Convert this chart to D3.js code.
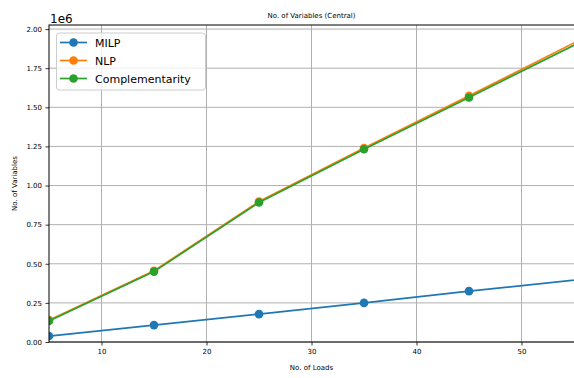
<!DOCTYPE html>
<html>
<head>
<meta charset="utf-8">
<script src="https://cdn.jsdelivr.net/npm/d3@7"></script>
<style>
  html, body { margin: 0; padding: 0; background: #fff; }
  svg { display: block; font-family: "DejaVu Sans", sans-serif; }
</style>
</head>
<body>
<svg id="chart" width="574" height="378"></svg>
<script>
// Number of loads per run
const loads = [5, 15, 25, 35, 45, 65];
// Variable counts per formulation
const milp = [38000, 108000, 178000, 250000, 325000, 465000];
const nlp = [140000, 455000, 898000, 1240000, 1573000, 2250000];
const complementarity = [135000, 450000, 892000, 1232000, 1563000, 2230000];
const seriesNames = ["MILP", "NLP", "Complementarity"];
const seriesColors = ["#1f77b4", "#ff7f0e", "#2ca02c"];
const xTicks = [10, 20, 30, 40, 50];
const yTicks = [0, 0.25, 0.5, 0.75, 1.0, 1.25, 1.5, 1.75, 2.0];

const svg = d3.select("#chart");
const W = 574, H = 378;
const m = { top: 25, right: 0, bottom: 36, left: 49 };
const x = d3.scaleLinear().domain([5, 55]).range([m.left, W - m.right]);
const y = d3.scaleLinear().domain([0, 2.026e6]).range([H - m.bottom, m.top]);

svg.append("defs").append("clipPath").attr("id", "plot")
  .append("rect").attr("x", m.left).attr("y", m.top)
  .attr("width", W - m.right - m.left).attr("height", H - m.bottom - m.top);

// grid
const grid = svg.append("g");
grid.selectAll(".vg").data(xTicks).join("line")
  .attr("x1", d => x(d)).attr("x2", d => x(d))
  .attr("y1", m.top).attr("y2", H - m.bottom)
  .attr("stroke", "#b0b0b0").attr("stroke-width", 1);
grid.selectAll(".hg").data(yTicks).join("line")
  .attr("y1", d => y(d * 1e6)).attr("y2", d => y(d * 1e6))
  .attr("x1", m.left).attr("x2", W - m.right)
  .attr("stroke", "#b0b0b0").attr("stroke-width", 1);

// series
const series = [milp, nlp, complementarity];
const plot = svg.append("g").attr("clip-path", "url(#plot)");
const line = d3.line().x(d => x(d[0])).y(d => y(d[1]));
series.forEach((vals, i) => {
  const pts = loads.map((l, j) => [l, vals[j]]);
  plot.append("path").datum(pts)
    .attr("d", line).attr("fill", "none")
    .attr("stroke", seriesColors[i]).attr("stroke-width", 1.7);
  plot.selectAll(null).data(pts).join("circle")
    .attr("cx", d => x(d[0])).attr("cy", d => y(d[1]))
    .attr("r", 4.3).attr("fill", seriesColors[i]);
});

// axes
const xAxis = d3.axisBottom(x).tickValues(xTicks).tickSize(3.5).tickPadding(3.5).tickFormat(d3.format("d"));
const yAxis = d3.axisLeft(y).tickValues(yTicks.map(v => v * 1e6)).tickSize(3.5).tickPadding(3.5)
  .tickFormat(d => (d / 1e6).toFixed(2));
const gx = svg.append("g").attr("transform", `translate(0,${H - m.bottom})`).call(xAxis);
const gy = svg.append("g").attr("transform", `translate(${m.left},0)`).call(yAxis);
[gx, gy].forEach(g => {
  g.select(".domain").remove();
  g.selectAll("text").attr("font-size", 7).attr("font-family", "DejaVu Sans").attr("fill", "#000");
  g.selectAll("line").attr("stroke", "#000").attr("stroke-width", 0.8);
});

// spines
svg.append("rect").attr("x", m.left).attr("y", m.top)
  .attr("width", W - m.right - m.left + 2).attr("height", H - m.bottom - m.top)
  .attr("fill", "none").attr("stroke", "#000").attr("stroke-width", 1);

// texts
svg.append("text").attr("x", (m.left + W - m.right) / 2).attr("y", 18)
  .attr("text-anchor", "middle").attr("font-size", 7).text("No. of Variables (Central)");
svg.append("text").attr("x", (m.left + W - m.right) / 2).attr("y", 370)
  .attr("text-anchor", "middle").attr("font-size", 7).text("No. of Loads");
svg.append("text").attr("transform", `translate(17,${(m.top + H - m.bottom) / 2}) rotate(-90)`)
  .attr("text-anchor", "middle").attr("font-size", 7).text("No. of Variables");
svg.append("text").attr("x", 50).attr("y", 23).attr("font-size", 12).text("1e6");

// legend
const lg = svg.append("g");
lg.append("rect").attr("x", 56.5).attr("y", 33).attr("width", 149).attr("height", 57)
  .attr("rx", 3).attr("fill", "#fff").attr("fill-opacity", 0.8)
  .attr("stroke", "#cccccc").attr("stroke-width", 1);
seriesNames.forEach((name, i) => {
  const cy = 42.5 + i * 18;
  lg.append("line").attr("x1", 60).attr("x2", 87).attr("y1", cy).attr("y2", cy)
    .attr("stroke", seriesColors[i]).attr("stroke-width", 1.7);
  lg.append("circle").attr("cx", 73.5).attr("cy", cy).attr("r", 4.3).attr("fill", seriesColors[i]);
  lg.append("text").attr("x", 95).attr("y", cy + 4).attr("font-size", 11).text(name);
});
</script>
</body>
</html>
